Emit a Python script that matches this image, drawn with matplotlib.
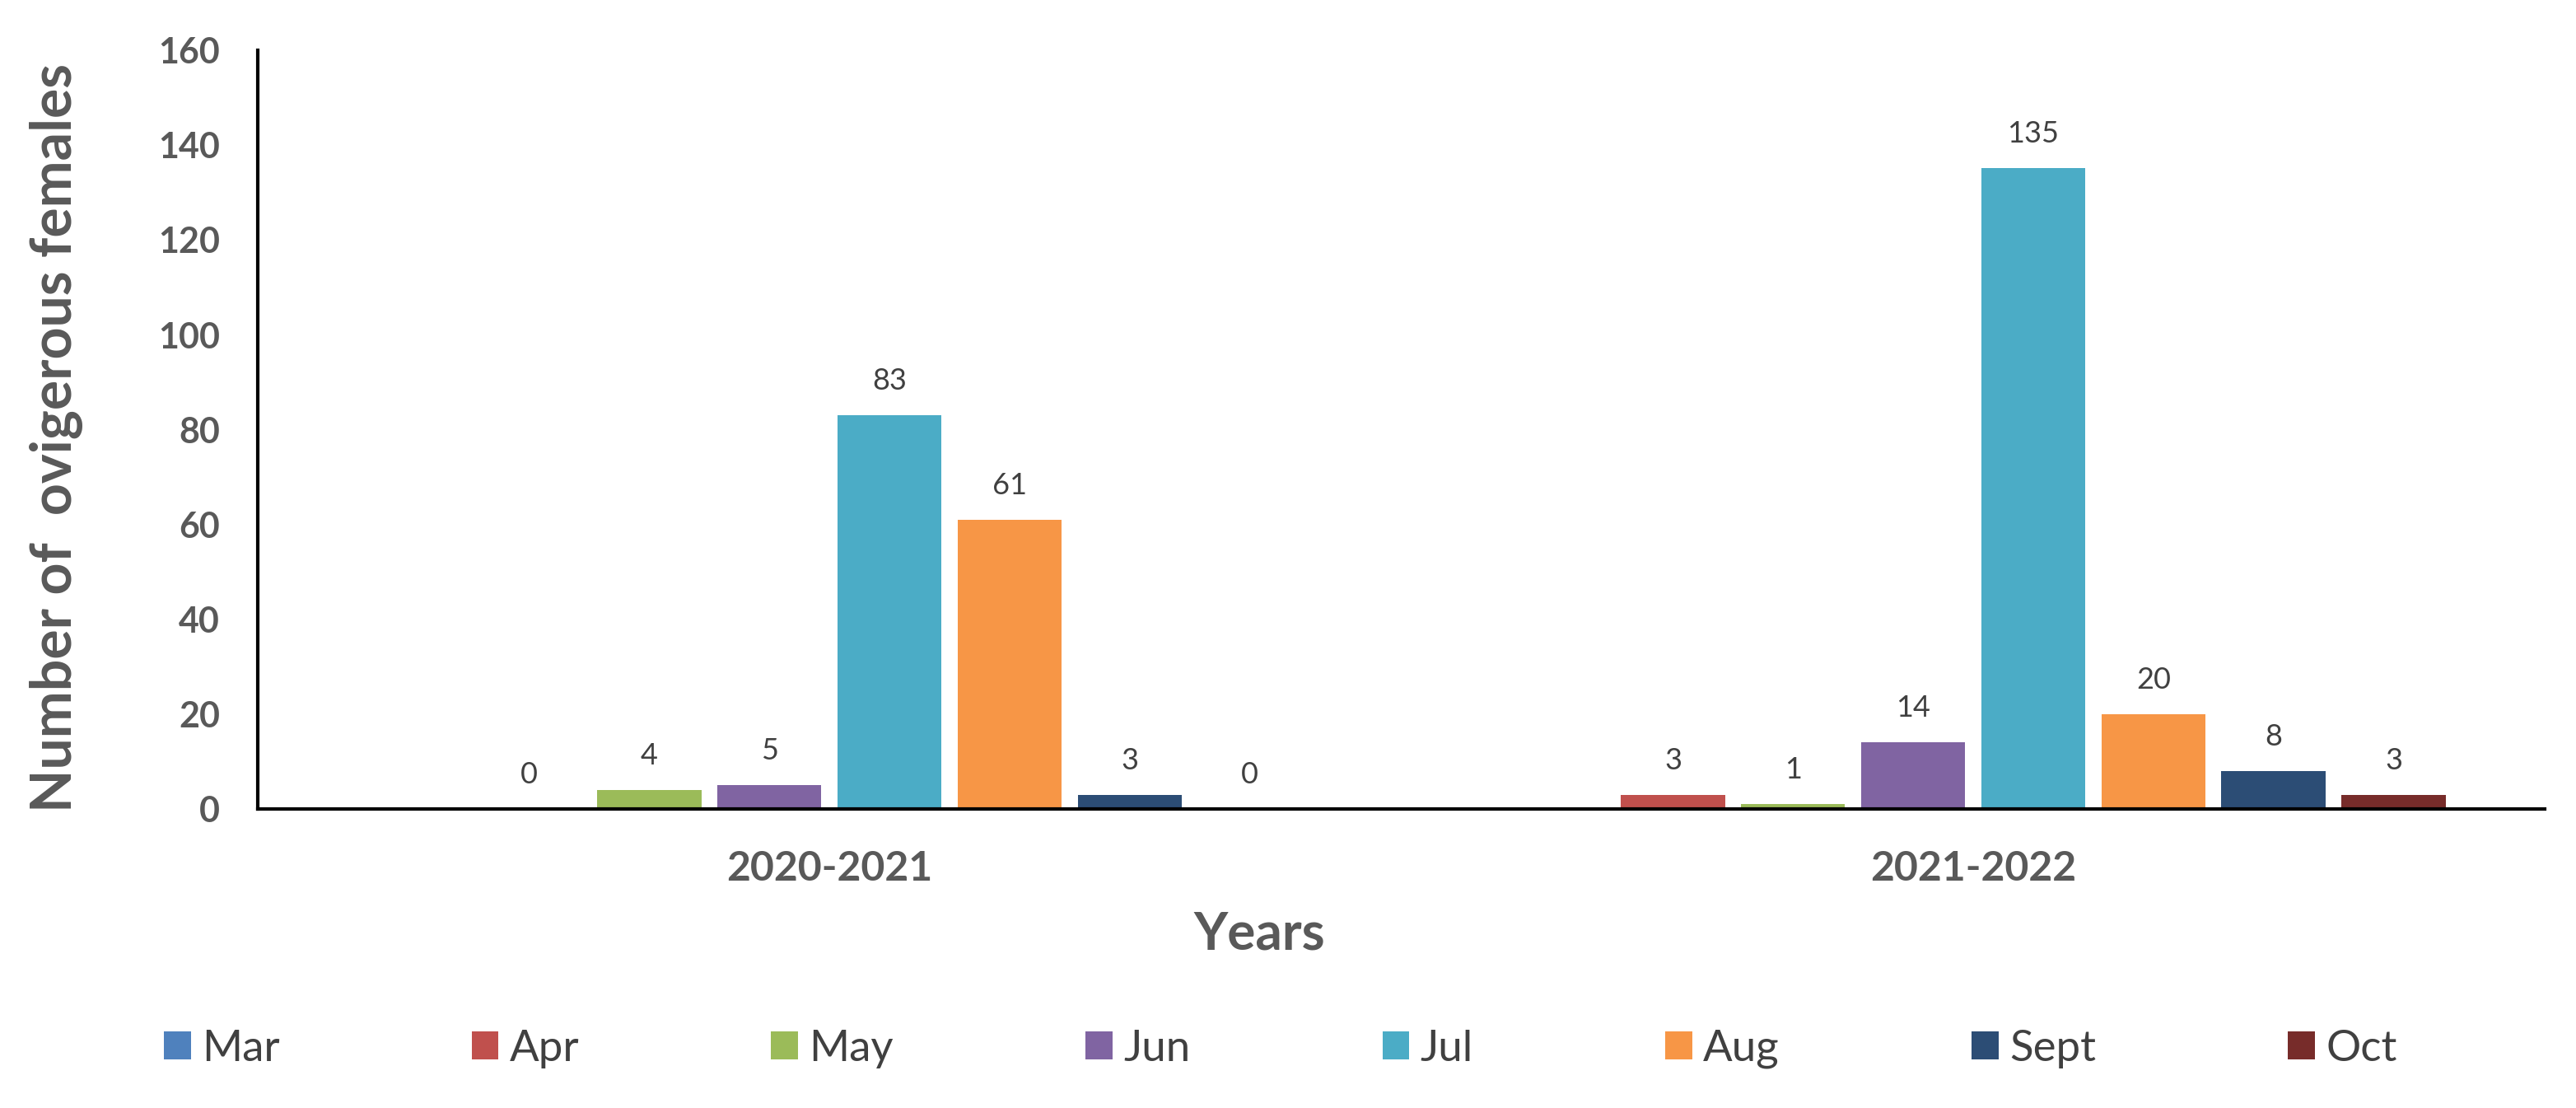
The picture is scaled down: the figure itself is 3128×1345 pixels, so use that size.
import matplotlib
matplotlib.use("Agg")
import matplotlib.pyplot as plt
import numpy as np
from matplotlib.patches import Patch

plt.rcParams['font.family'] = ['Lato', 'DejaVu Sans']

years = ["2020-2021", "2021-2022"]
months = ["Mar", "Apr", "May", "Jun", "Jul", "Aug", "Sept", "Oct"]
# values per month for each year (None = no data)
values = {
    "Mar": [None, None],
    "Apr": [0, 3],
    "May": [4, 1],
    "Jun": [5, 14],
    "Jul": [83, 135],
    "Aug": [61, 20],
    "Sept": [3, 8],
    "Oct": [0, 3],
}
colors = ["#4F81BD", "#C0504D", "#9BBB59", "#8064A2", "#4BACC6", "#F79646", "#2C4D75", "#772C2A"]
yticks = [0, 20, 40, 60, 80, 100, 120, 140, 160]

fig = plt.figure(figsize=(31.28, 13.45), dpi=100)
ax = fig.add_axes([0.100, 0.270, 0.888, 0.685])

x = np.arange(len(years))
slot = 0.105
width = 0.091
for i, m in enumerate(months):
    vals = values[m]
    pos = x + (i - 3.5) * slot
    hv = [v if v is not None else 0 for v in vals]
    ax.bar(pos, hv, width=width, color=colors[i], label=m)
    for p, v in zip(pos, vals):
        if v is None:
            continue
        ax.annotate(str(v), (p, v), xytext=(0, 18), textcoords="offset points",
                    ha="center", va="bottom", fontsize=26, color="#404040")

ax.set_xlim(-0.5, 1.5)
ax.set_ylim(0, 160)
ax.set_yticks(yticks)
ax.set_yticklabels([str(t) for t in yticks], fontsize=31, fontweight="bold", color="#595959")
ax.set_xticks(x)
ax.set_xticklabels(years, fontsize=36, fontweight="bold", color="#595959")
ax.tick_params(axis="both", length=0)
ax.tick_params(axis="y", pad=33)
ax.tick_params(axis="x", pad=36)
for s in ["top", "right"]:
    ax.spines[s].set_visible(False)
for s in ["left", "bottom"]:
    ax.spines[s].set_linewidth(3)
    ax.spines[s].set_color("black")

fig.text(0.022, 0.605, "Number of  ovigerous females", rotation=90, ha="center", va="center",
         fontsize=49, fontweight="bold", color="#595959")
fig.text(0.489, 0.157, "Years", ha="center", va="center", fontsize=46, fontweight="bold", color="#595959")

handles = [Patch(facecolor=c, edgecolor="none") for c in colors]
fig.legend(handles, months, loc="center", bbox_to_anchor=(0.497, 0.053), ncol=8, frameon=False,
           fontsize=38, handlelength=0.62, handleheight=0.62, handletextpad=0.25,
           columnspacing=4.42, labelcolor="#404040")

fig.savefig("out.png", dpi=100)
